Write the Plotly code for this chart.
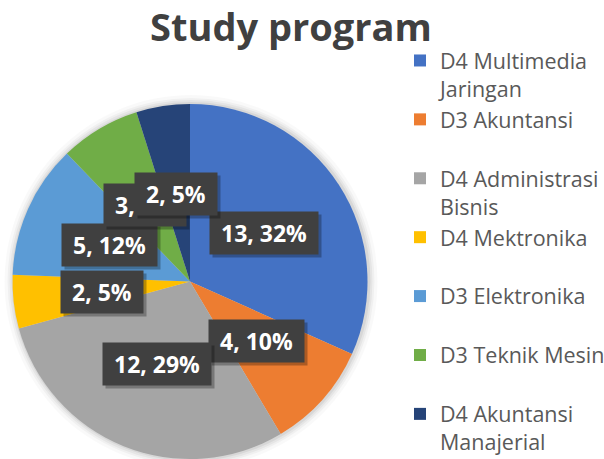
import math
import plotly.graph_objects as go

programs = ["D4 Multimedia Jaringan", "D3 Akuntansi", "D4 Administrasi Bisnis",
            "D4 Mektronika", "D3 Elektronika", "D3 Teknik Mesin", "D4 Akuntansi Manajerial"]
legend_names = ["D4 Multimedia<br>Jaringan", "D3 Akuntansi<br> ", "D4 Administrasi<br>Bisnis",
                "D4 Mektronika<br> ", "D3 Elektronika<br> ", "D3 Teknik Mesin<br> ",
                "D4 Akuntansi<br>Manajerial"]
counts = [13, 4, 12, 2, 5, 3, 2]
colors = ["#4472C4", "#ED7D31", "#A5A5A5", "#FFC000", "#5B9BD5", "#70AD47", "#264478"]

W, H = 604, 459
dom_x = [12 / W, 368 / W]
dom_y = [0.0, 1 - 104 / H]

fig = go.Figure()
fig.add_trace(go.Pie(
    labels=legend_names, values=counts, sort=False, direction="clockwise", rotation=0,
    marker=dict(colors=colors, line=dict(width=0)),
    textinfo="none", hoverinfo="label+value+percent",
    domain=dict(x=dom_x, y=dom_y),
))

# geometry of the pie in pixels / paper
cx_p = (dom_x[0] + dom_x[1]) / 2
cy_p = (dom_y[0] + dom_y[1]) / 2
r_px = min((dom_x[1] - dom_x[0]) * W, (dom_y[1] - dom_y[0]) * H) / 2

# soft shadow around pie
shapes = []
for extra, op in [(9, 0.025), (6, 0.035), (4, 0.045), (2, 0.06)]:
    rr = r_px + extra
    shapes.append(dict(type="circle", xref="paper", yref="paper", layer="below",
                       x0=cx_p - rr / W + 1 / W, x1=cx_p + rr / W + 1 / W,
                       y0=cy_p - rr / H, y1=cy_p + rr / H,
                       fillcolor=f"rgba(0,0,0,{op})", line=dict(width=0)))

total = sum(counts)
annotations = []
cum = 0
for v in counts:
    mid = (cum + v / 2) / total * 2 * math.pi
    cum += v
    lx = cx_p + 0.5 * r_px * math.sin(mid) / W
    ly = cy_p + 0.5 * r_px * math.cos(mid) / H
    txt = f"&nbsp;{v}, {round(v / total * 100)}%&nbsp;"
    common = dict(x=lx, y=ly, xref="paper", yref="paper", showarrow=False,
                  xanchor="center", yanchor="middle", borderpad=5)
    # shadow
    annotations.append(dict(common, text=f"<b>{txt}</b>", xshift=3, yshift=-3,
                            bgcolor="rgba(0,0,0,0.28)",
                            font=dict(family="Open Sans", size=23, color="rgba(0,0,0,0)")))
    annotations.append(dict(common, text=f"<b>{txt}</b>", bgcolor="#404040",
                            font=dict(family="Open Sans", size=23, color="white")))

fig.update_layout(
    width=W, height=H,
    margin=dict(l=0, r=0, t=0, b=0, autoexpand=False),
    paper_bgcolor="white", plot_bgcolor="white",
    title=dict(text="<b>Study program</b>", x=291 / W, xanchor="center",
               y=1 - 28 / H, yanchor="middle", yref="container",
               font=dict(family="Open Sans", size=38, color="#404040")),
    legend=dict(x=400 / W, xanchor="left", y=1 - 40 / H, yanchor="top",
                valign="top", font=dict(family="Open Sans", size=21.5, color="#595959"),
                bgcolor="rgba(0,0,0,0)"),
    shapes=shapes,
    annotations=annotations,
)

fig.write_html("out.html")
